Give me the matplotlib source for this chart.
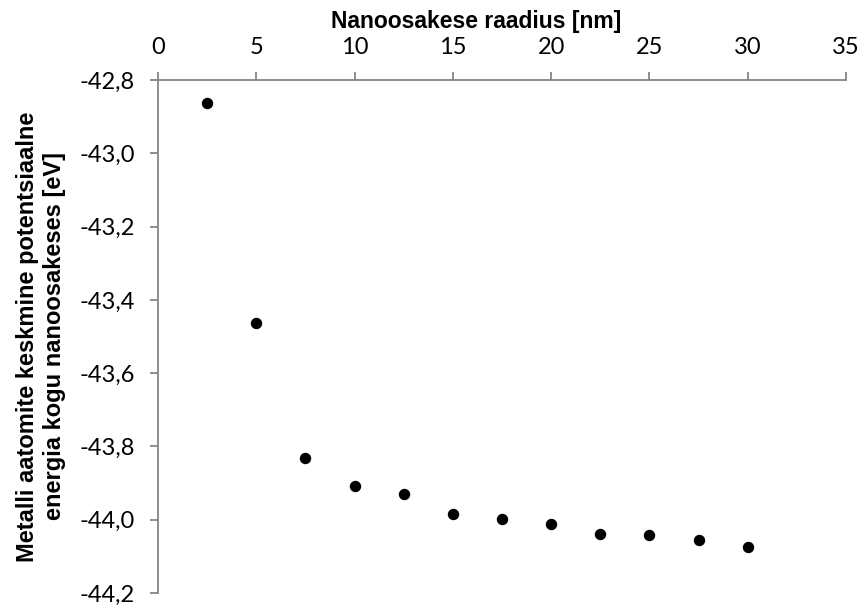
import matplotlib
matplotlib.use("Agg")
import matplotlib.pyplot as plt
from matplotlib.ticker import FuncFormatter, MultipleLocator

plt.rcParams['font.family'] = ['Lato', 'DejaVu Sans']

# nanoparticle radius [nm] and mean potential energy [eV]
radius = [2.5, 5, 7.5, 10, 12.5, 15, 17.5, 20, 22.5, 25, 27.5, 30]
energy = [-42.864, -43.463, -43.831, -43.909, -43.931, -43.985,
          -43.997, -44.013, -44.040, -44.043, -44.056, -44.075]

xlabel = "Nanoosakese raadius [nm]"
ylabel = "Metalli aatomite keskmine potentsiaalne\nenergia kogu nanoosakeses [eV]"

fig = plt.figure(figsize=(8.63, 6.08), dpi=100)
ax = fig.add_axes([158/863, 1 - 593/608, 688/863, 513/608])

ax.plot(radius, energy, 'o', color='black', ms=7.2, clip_on=False)

ax.set_xlim(0, 35)
ax.set_ylim(-44.2, -42.8)
ax.xaxis.set_major_locator(MultipleLocator(5))
ax.yaxis.set_major_locator(MultipleLocator(0.2))
ax.yaxis.set_major_formatter(FuncFormatter(lambda v, p: f"{v:.1f}".replace('.', ',')))

# x axis on top, Excel-like grey spines
ax.xaxis.tick_top()
ax.xaxis.set_label_position('top')
for s in ['bottom', 'right']:
    ax.spines[s].set_visible(False)
for s in ['top', 'left']:
    ax.spines[s].set_color('#868686')
    ax.spines[s].set_linewidth(1.3)
ax.tick_params(axis='both', direction='out', length=5.5, width=1.3,
               color='#868686', labelsize=17, labelcolor='black')
ax.tick_params(axis='x', pad=10.5)
ax.tick_params(axis='y', pad=11)

xl = ax.set_xlabel(xlabel, fontsize=16.5)
yl = ax.set_ylabel(ylabel, fontsize=17, linespacing=1.25)
for t in (xl, yl):
    t.set_fontfamily('Liberation Sans')
    t.set_fontweight('bold')
# label on top is anchored at its baseline
ax.xaxis.set_label_coords(0.462, 1 + 52/513)
ax.yaxis.set_label_coords(-92/688, 0.5)

fig.savefig("out.png", dpi=100)
